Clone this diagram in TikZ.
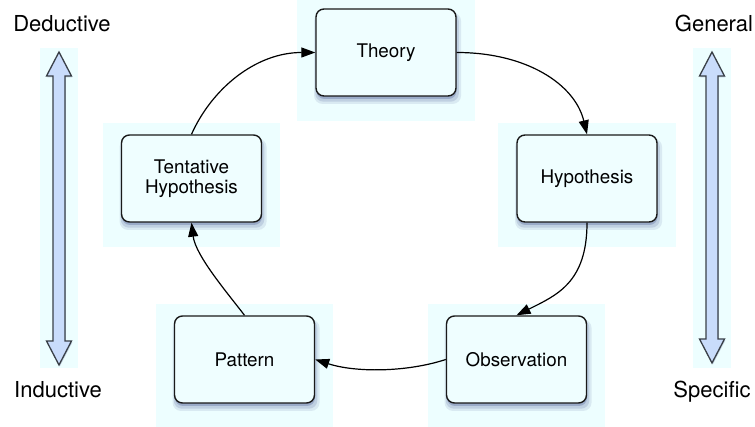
\documentclass[tikz,border=0pt]{standalone}
\usepackage{fontspec}
\setmainfont{TeX Gyre Heros}
\usetikzlibrary{arrows.meta,shadows,calc,backgrounds}

\definecolor{halo}{HTML}{EDFEFF}
\definecolor{boxfill}{HTML}{EFFEFF}
\definecolor{boxline}{HTML}{1A1A1A}
\definecolor{shade}{HTML}{4E5F96}
\definecolor{barfill}{HTML}{C9DCFB}
\definecolor{barline}{HTML}{3A4048}

\tikzset{
  stage/.style={rectangle, rounded corners=8pt, minimum width=140pt,
    minimum height=87pt, draw=boxline, line width=1.4pt, fill=boxfill,
    align=center, inner sep=0pt,
    font=\fontsize{18.8}{20.5}\selectfont,
    general shadow={shadow xshift=1.5pt, shadow yshift=-5.5pt, shadow scale=1.05, fill=shade, opacity=0.12},
    general shadow={shadow xshift=1pt, shadow yshift=-4.5pt, shadow scale=1.025, fill=shade, opacity=0.18},
    general shadow={shadow xshift=0.5pt, shadow yshift=-3pt, fill=shade, opacity=0.32}},
  conn/.style={line width=1.2pt, draw=black,
    -{Triangle[length=14pt,width=10pt]}},
  scale label/.style={anchor=base, inner sep=0pt,
    font=\fontsize{22}{25}\selectfont},
  bar/.style={fill=barfill, draw=barline, line width=1.3pt, line join=miter,
    general shadow={shadow xshift=0.8pt, shadow yshift=-1.5pt, fill=shade, opacity=0.25}},
  haloarea/.style={fill=halo}
}

\begin{document}
\begin{tikzpicture}[x=1pt, y=-1pt]
  \useasboundingbox (0,0) rectangle (755,427);

  % stages of the research cycle
  \node[stage] (th) at (386,52.5)    {Theory};
  \node[stage] (hy) at (587,178.5)   {Hypothesis};
  \node[stage] (ob) at (516.5,359.5) {Observation};
  \node[stage] (pa) at (244.5,359.5) {Pattern};
  \node[stage] (tt) at (191.5,178.5) {Tentative\\Hypothesis};

  % pale areas behind each stage and each scale bar
  \begin{scope}[on background layer]
    \fill[white] (0,0) rectangle (755,427);
    \foreach \n in {th,hy,ob,pa,tt}
      \fill[haloarea] ($(\n.north west)+(-18,-11)$) rectangle ($(\n.south east)+(18,24)$);
    \fill[haloarea] (40,48) rectangle (78,368);
    \fill[haloarea] (693,48) rectangle (731,368);
  \end{scope}

  % cycle connectors
  \draw[conn] (th.east) .. controls +(70,0) and +(-12,-50) .. (hy.north);
  \draw[conn] (hy.south) .. controls +(0,60) and +(40,-20) .. (ob.north);
  \draw[conn] (ob.west) .. controls +(-40,13) and +(40,13) .. (pa.east);
  \draw[conn] (pa.north) .. controls +(-16,-21) and +(4,33) .. (tt.south);
  \draw[conn] (tt.north) .. controls +(20,-45) and +(-60,0) .. (th.west);

  % double-headed scale bars
  \draw[bar] (59,52) -- (71.5,76) -- (65,76) -- (65,341) -- (71.5,341)
    -- (59,365) -- (46.5,341) -- (53,341) -- (53,76) -- (46.5,76) -- cycle;
  \draw[bar] (712,52) -- (724.5,76) -- (718,76) -- (718,339) -- (724.5,339)
    -- (712,363) -- (699.5,339) -- (706,339) -- (706,76) -- (699.5,76) -- cycle;

  % scale labels
  \node[scale label] (ded) at (62,32)   {Deductive};
  \node[scale label] (ind) at (58,398)  {Inductive};
  \node[scale label] (gen) at (714,32)  {General};
  \node[scale label] (spe) at (712,398) {Specific};
\end{tikzpicture}
\end{document}
